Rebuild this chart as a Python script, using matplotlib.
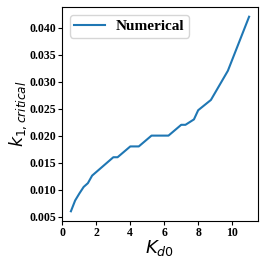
import matplotlib
matplotlib.use("Agg")
import matplotlib.pyplot as plt

kd0 = [0.5, 0.75, 1.0, 1.25, 1.5, 1.75, 3.0, 3.25, 4.0, 4.5, 5.25, 6.25,
       7.0, 7.25, 7.75, 8.0, 8.75, 9.75, 11.0]
k1_crit = [0.006, 0.008, 0.0093, 0.0105, 0.0112, 0.0126, 0.016, 0.016, 0.018,
           0.018, 0.020, 0.020, 0.022, 0.022, 0.023, 0.0247, 0.0266, 0.032, 0.042]

fig = plt.figure(figsize=(2.66, 2.66), dpi=100)
ax = fig.add_axes([62 / 266, 45 / 266, 196 / 266, 214 / 266])
ax.plot(kd0, k1_crit, color='#1f77b4', linewidth=1.5, label='Numerical')

ax.set_xticks([0, 2, 4, 6, 8, 10])
ax.set_yticks([0.005, 0.010, 0.015, 0.020, 0.025, 0.030, 0.035, 0.040])
ax.set_yticklabels(['0.005', '0.010', '0.015', '0.020', '0.025', '0.030', '0.035', '0.040'])
ax.tick_params(labelsize=8.5, length=3, width=0.8, pad=1.5)
for lbl in ax.get_xticklabels() + ax.get_yticklabels():
    lbl.set_fontfamily('Liberation Serif')
    lbl.set_fontweight('bold')
ax.set_xlabel('$K_{d0}$', fontsize=13, labelpad=-1)
ax.set_ylabel('$k_{1,critical}$', fontsize=12.5, labelpad=0)
ax.legend(loc='upper left', prop={'family': 'Liberation Serif', 'size': 11, 'weight': 'bold'},
          handlelength=2.0, handletextpad=0.7, borderpad=0.3)

fig.savefig('out.png', dpi=100)
